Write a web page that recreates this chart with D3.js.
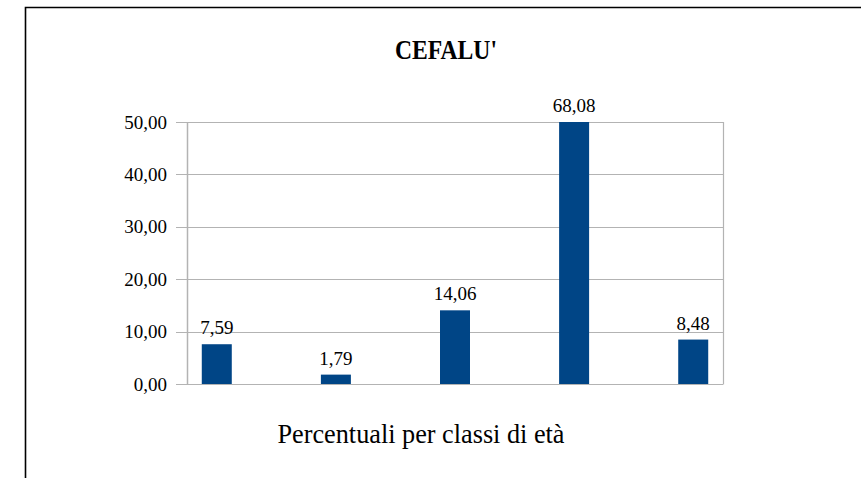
<!DOCTYPE html>
<html>
<head>
<meta charset="utf-8">
<script src="https://cdn.jsdelivr.net/npm/d3@7"></script>
<style>
  html, body { margin: 0; padding: 0; background: #fff; }
  svg { display: block; }
  text { font-family: "Liberation Serif", "Times New Roman", Times, serif; }
</style>
</head>
<body>
<svg id="chart" width="861" height="478"></svg>
<script>
const title = "CEFALU'";
const xTitle = "Percentuali per classi di età";
const categories = ["Classe 1", "Classe 2", "Classe 3", "Classe 4", "Classe 5"];
const values = [7.59, 1.79, 14.06, 68.08, 8.48];
const yTicks = [0, 10, 20, 30, 40, 50];

const svg = d3.select("#chart");
const W = 861, H = 478;
const plot = { left: 187, right: 723, top: 122, bottom: 384 };
const fmt = v => d3.format(".2f")(v).replace(".", ",");

// outer frame (top + left edges)
svg.append("path")
  .attr("d", `M25.5,${H} L25.5,7.5 L${W},7.5`)
  .attr("fill", "none").attr("stroke", "#000").attr("stroke-width", 1.6);

const x = d3.scalePoint().domain(categories).range([plot.left, plot.right]).padding(0.25);
const y = d3.scaleLinear().domain([0, 50]).range([plot.bottom, plot.top]).clamp(true);

// gridlines
svg.append("g").selectAll("line").data(yTicks).join("line")
  .attr("x1", plot.left - 11).attr("x2", plot.right)
  .attr("y1", d => Math.round(y(d)) + 0.5).attr("y2", d => Math.round(y(d)) + 0.5)
  .attr("stroke", "#b3b3b3").attr("stroke-width", 1.2);

// axis lines / border
svg.append("line").attr("x1", plot.left + 0.5).attr("x2", plot.left + 0.5)
  .attr("y1", plot.top).attr("y2", plot.bottom + 0.5)
  .attr("stroke", "#b3b3b3").attr("stroke-width", 1.5);
svg.append("line").attr("x1", plot.right + 0.5).attr("x2", plot.right + 0.5)
  .attr("y1", plot.top).attr("y2", plot.bottom + 0.5)
  .attr("stroke", "#b3b3b3").attr("stroke-width", 1.2);

// y tick labels
svg.append("g").selectAll("text").data(yTicks).join("text")
  .attr("x", 167).attr("y", d => y(d) + 6.5)
  .attr("text-anchor", "end")
  .attr("font-size", 19).attr("fill", "#000")
  .text(d => fmt(d));

// bars
const bw = 30;
svg.append("g").selectAll("rect").data(values).join("rect")
  .attr("x", (d, i) => x(categories[i]) - bw / 2)
  .attr("width", bw)
  .attr("y", d => y(d))
  .attr("height", d => plot.bottom - y(d))
  .attr("fill", "#004586");

// value labels
svg.append("g").selectAll("text").data(values).join("text")
  .attr("x", (d, i) => x(categories[i]))
  .attr("y", d => y(d) - 10)
  .attr("text-anchor", "middle")
  .attr("font-size", 19).attr("fill", "#000")
  .text(d => fmt(d));

// title
svg.append("text")
  .attr("x", 446).attr("y", 59)
  .attr("text-anchor", "middle")
  .attr("font-size", 27).attr("font-weight", "bold")
  .attr("textLength", 102).attr("lengthAdjust", "spacingAndGlyphs")
  .text(title);

// x axis title
svg.append("text")
  .attr("x", 421).attr("y", 443)
  .attr("text-anchor", "middle")
  .attr("font-size", 27)
  .attr("textLength", 287).attr("lengthAdjust", "spacingAndGlyphs")
  .text(xTitle);
</script>
</body>
</html>
